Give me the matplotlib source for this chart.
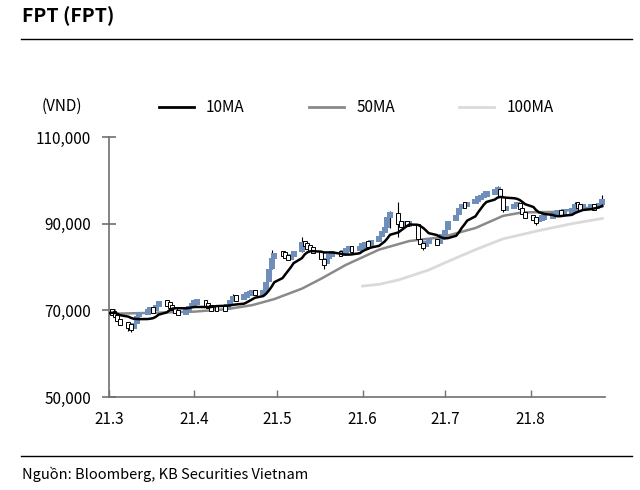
import matplotlib
matplotlib.use("Agg")
import matplotlib.pyplot as plt
import matplotlib.dates as mdates
from matplotlib.lines import Line2D
import pandas as pd
import numpy as np

plt.rcParams['font.family'] = ['Noto Sans CJK KR', 'DejaVu Sans']

# daily closes (thousand VND), one list per month
close_mar = [69.8, 69.4, 68.8, 67.8, 66.9, 66.2, 66.0, 66.8, 68.7, 69.3, 70.0, 70.2,
             70.0, 71.0, 71.8, 71.6, 71.0, 70.3, 69.6, 69.4, 69.8, 70.8, 71.5]
close_apr = [71.8, 72.0, 71.5, 70.8, 70.4, 70.6, 70.5, 70.4, 71.2, 72.3, 73.0, 72.8,
             73.4, 73.8, 74.0, 74.2, 74.0, 74.3, 76.5, 79.5, 82.0, 83.2]
close_may = [83.0, 82.4, 82.0, 82.6, 83.4, 85.8, 85.0, 84.6, 84.2, 83.6, 81.8, 80.6,
             82.0, 82.8, 83.2, 83.0, 83.4, 84.0, 84.2, 84.0, 84.6]
close_jun = [85.0, 85.4, 85.2, 86.0, 87.0, 88.2, 89.0, 91.5, 92.5, 90.0, 89.8, 90.2,
             89.8, 90.0, 86.5, 85.2, 84.8, 85.8, 86.0, 85.6, 86.2, 87.5]
close_jul = [88.5, 90.5, 92.0, 93.5, 94.5, 94.0, 94.8, 95.5, 95.8, 96.2, 96.8, 97.0,
             97.5, 98.0, 96.2, 93.2, 93.8, 94.2, 94.6, 93.5, 92.2, 91.8]
close_aug = [91.0, 90.8, 91.2, 91.5, 91.6, 92.0, 92.4, 92.6, 92.5, 92.8, 93.0, 94.5,
             94.0, 93.8, 93.9, 94.0, 93.8, 94.1, 94.3, 95.8]
# late-February closes, only used to start the 10-day average
close_feb = [68.5, 69.0, 69.8, 70.2, 69.6, 69.0, 68.8, 69.2, 69.6]
first_open = 69.6

# notable wicks: date -> (low, high)
wicks = {
    '2021-03-08': (65.2, 66.8), '2021-03-09': (65.0, 66.4),
    '2021-04-15': (72.5, 73.8), '2021-04-29': (79.5, 84.0),
    '2021-05-10': (83.4, 87.0), '2021-05-18': (79.5, 81.8),
    '2021-06-11': (89.0, 93.0), '2021-06-14': (87.0, 95.0),
    '2021-06-23': (84.0, 85.2), '2021-07-20': (97.0, 98.6),
    '2021-07-22': (92.8, 96.2), '2021-08-03': (89.6, 91.0),
    '2021-08-17': (93.0, 95.0), '2021-08-27': (94.3, 96.6),
}

# moving averages
ma50_dates = ['2021-03-01', '2021-03-15', '2021-04-01', '2021-04-13', '2021-04-22',
              '2021-04-30', '2021-05-10', '2021-05-17', '2021-05-26', '2021-06-07',
              '2021-06-18', '2021-06-30', '2021-07-12', '2021-07-22', '2021-07-29',
              '2021-08-09', '2021-08-27']
ma50_vals = [69.2, 69.4, 69.7, 70.3, 71.2, 72.6, 75.0, 77.3, 80.5, 84.0,
             86.0, 86.9, 89.0, 91.8, 92.6, 92.7, 94.0]
ma100_dates = ['2021-06-01', '2021-06-07', '2021-06-14', '2021-06-25', '2021-07-01',
               '2021-07-12', '2021-07-22', '2021-08-04', '2021-08-16', '2021-08-27']
ma100_vals = [75.6, 76.0, 77.0, 79.3, 81.0, 84.0, 86.5, 88.4, 90.0, 91.2]

month_labels = ['21.3', '21.4', '21.5', '21.6', '21.7', '21.8']
y_ticks = [50000, 70000, 90000, 110000]

BLUE = '#6f8fba'

closes = close_mar + close_apr + close_may + close_jun + close_jul + close_aug
dates = pd.bdate_range('2021-03-01', '2021-08-27')
df = pd.DataFrame({'close': np.array(closes) * 1000}, index=dates)
df['open'] = df['close'].shift(1).fillna(first_open * 1000)
full = pd.Series(close_feb + closes) * 1000
df['ma10'] = full.rolling(10).mean().values[len(close_feb):]

fig = plt.figure(figsize=(6.4, 4.9), dpi=100)
ax = fig.add_axes([109 / 640, 93 / 490, 496 / 640, 260 / 490])

x = mdates.date2num(df.index.to_pydatetime())
up = (df['close'] >= df['open']).values
mid = ((df['close'] + df['open']) / 2).values
body = (df['close'] - df['open']).abs().clip(lower=1300).values
low_body = mid - body / 2

# wicks
for d, (lo, hi) in wicks.items():
    xd = mdates.date2num(pd.Timestamp(d))
    ax.vlines(xd, lo * 1000, hi * 1000, color='black', lw=0.8, zorder=2)

ax.bar(x[up], body[up], bottom=low_body[up], width=2.2, color=BLUE,
       linewidth=0, zorder=3)
ax.bar(x[~up], body[~up], bottom=low_body[~up], width=1.4, facecolor='white',
       edgecolor='black', linewidth=0.7, zorder=3)

ax.plot(mdates.date2num(pd.to_datetime(ma100_dates)), np.array(ma100_vals) * 1000,
        color='#dadada', lw=2, zorder=1)
ax.plot(mdates.date2num(pd.to_datetime(ma50_dates)), np.array(ma50_vals) * 1000,
        color='#8a8a8a', lw=1.8, zorder=1)
ax.plot(x, df['ma10'], color='black', lw=1.8, zorder=4)

ax.set_ylim(50000, 110000)
ax.set_yticks(y_ticks)
ax.set_yticklabels([f'{v:,}' for v in y_ticks])
ax.set_xlim(mdates.date2num(pd.Timestamp('2021-03-01')),
            mdates.date2num(pd.Timestamp('2021-08-28')))
month_starts = pd.date_range('2021-03-01', '2021-08-01', freq='MS')
ax.set_xticks(mdates.date2num(month_starts.to_pydatetime()))
ax.set_xticklabels(month_labels)

for s in ['top', 'right']:
    ax.spines[s].set_visible(False)
for s in ['left', 'bottom']:
    ax.spines[s].set_color('#707070')
    ax.spines[s].set_linewidth(1.2)
ax.tick_params(axis='y', direction='inout', length=10, width=1.2, color='#707070',
               labelsize=11, pad=8)
ax.tick_params(axis='x', direction='in', length=5, width=1, color='#707070',
               labelsize=11, pad=10)

# title, rules, source
fig.text(22 / 640, 1 - 16 / 490, 'FPT (FPT)', fontsize=14, fontweight='bold',
         va='center', ha='left')
fig.add_artist(Line2D([21 / 640, 632 / 640], [1 - 39 / 490] * 2, color='black', lw=1))
fig.add_artist(Line2D([21 / 640, 632 / 640], [1 - 456 / 490] * 2, color='black', lw=1))
fig.text(22 / 640, 1 - 474 / 490, 'Nguồn: Bloomberg, KB Securities Vietnam',
         fontsize=10.5, va='center', ha='left')
fig.text(62 / 640, 1 - 106 / 490, '(VND)', fontsize=11, va='center', ha='center')

handles = [Line2D([], [], color='black', lw=2),
           Line2D([], [], color='#8a8a8a', lw=2),
           Line2D([], [], color='#dadada', lw=2)]
fig.legend(handles, ['10MA', '50MA', '100MA'], loc='center left',
           bbox_to_anchor=(145 / 640, 1 - 108 / 490), ncol=3, frameon=False,
           fontsize=11, handlelength=2.3, columnspacing=4.2, handletextpad=0.8)

fig.savefig('out.png', dpi=100)
